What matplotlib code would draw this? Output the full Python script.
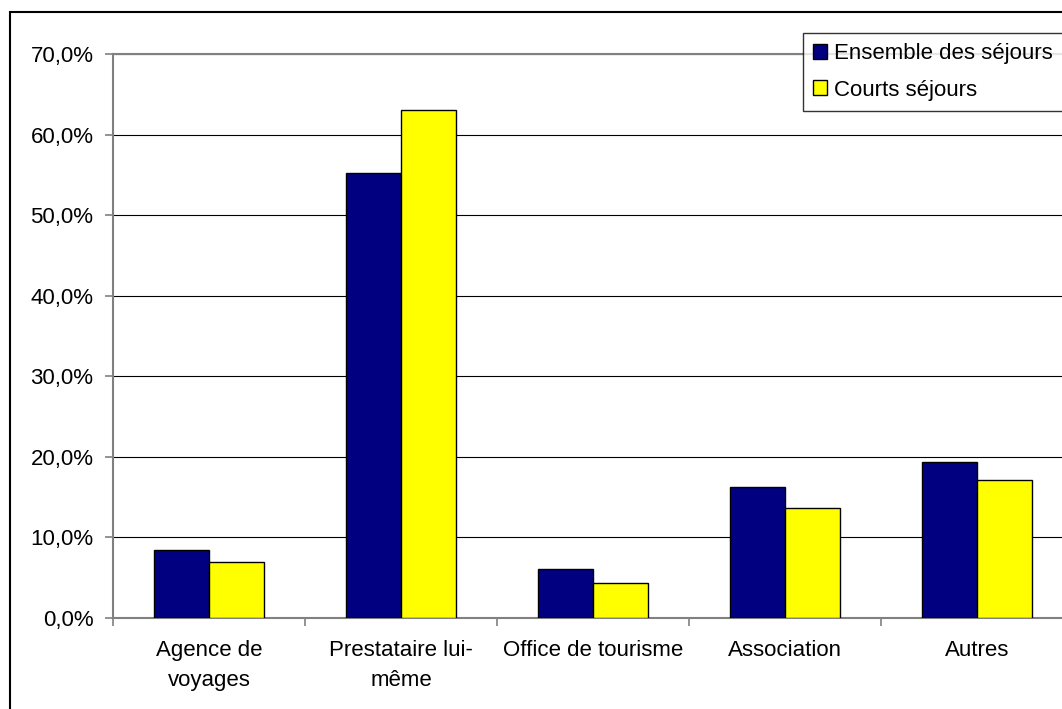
import numpy as np
import matplotlib.pyplot as plt
from matplotlib.patches import Rectangle
from matplotlib.ticker import FuncFormatter

plt.rcParams['font.family'] = ['Liberation Sans', 'DejaVu Sans']

categories = ['Agence de\nvoyages', 'Prestataire lui-\nmême', 'Office de tourisme',
              'Association', 'Autres']
ensemble = [8.5, 55.2, 6.1, 16.3, 19.4]
courts = [6.9, 63.0, 4.3, 13.6, 17.1]
series_names = ['Ensemble des séjours', 'Courts séjours']

W, H = 1062, 709
fig = plt.figure(figsize=(W / 100, H / 100), dpi=100)

# outer chart border (cut off at right and bottom like the original)
fig.patches.append(Rectangle((10 / W, -0.1), 1.2, 1 - 12 / H + 0.1,
                             transform=fig.transFigure, fill=False,
                             edgecolor='black', linewidth=1.5))

# plot area runs past the right edge of the picture
ax = fig.add_axes([113 / W, 1 - 618 / H, (1073 - 113) / W, (618 - 54) / H])

x = np.arange(len(categories))
width = 0.285
ax.bar(x - width / 2, ensemble, width, color='#000080', edgecolor='black',
       linewidth=1.0, label=series_names[0], zorder=3)
ax.bar(x + width / 2, courts, width, color='#FFFF00', edgecolor='black',
       linewidth=1.0, label=series_names[1], zorder=3)

ax.set_xlim(-0.5, len(categories) - 0.5)
ax.set_ylim(0, 70)
ax.set_yticks(np.arange(0, 71, 10))
ax.yaxis.set_major_formatter(FuncFormatter(lambda v, p: f'{v:.1f}%'.replace('.', ',')))
ax.yaxis.grid(True, color='black', linewidth=0.8, zorder=0)

ax.set_xticks(x)
ax.set_xticklabels(categories, linespacing=1.55)
ax.set_xticks(np.arange(-0.5, len(categories)), minor=True)
ax.tick_params(axis='x', which='major', length=0, pad=16, labelsize=16)
ax.tick_params(axis='x', which='minor', length=6, color='#808080', width=1.2)
ax.tick_params(axis='y', length=6, color='#808080', width=1.2, pad=8, labelsize=16)

for side in ['left', 'bottom', 'top']:
    ax.spines[side].set_color('#808080')
    ax.spines[side].set_linewidth(1.5)
ax.spines['right'].set_visible(False)

leg = fig.legend(loc='upper left', bbox_to_anchor=(803 / W, 1 - 33 / H),
                 borderaxespad=0, fontsize=16, fancybox=False, frameon=True,
                 edgecolor='black', handlelength=0.65, handleheight=0.65,
                 handletextpad=0.3, labelspacing=0.7, borderpad=0.45)
leg.get_frame().set_linewidth(1.0)

fig.savefig('out.png', dpi=100)
